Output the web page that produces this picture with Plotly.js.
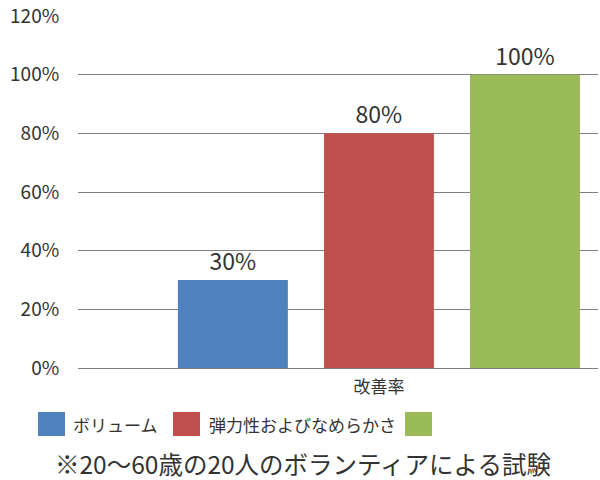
<!DOCTYPE html>
<html>
<head>
<meta charset="utf-8">
<script src="https://cdn.plot.ly/plotly-3.0.1.min.js"></script>
<style>html,body{margin:0;padding:0;background:#fff;}#chart{width:600px;height:480px;}</style>
</head>
<body>
<div id="chart"></div>
<script>
var categories = ["改善率"];
var seriesNames = ["ボリューム", "弾力性およびなめらかさ", ""];
var seriesValues = [[30], [80], [100]];
var seriesColors = ["#4F81BD", "#C0504D", "#9BBB59"];
var yTickValues = [0, 20, 40, 60, 80, 100, 120];
var footnote = "※20～60歳の20人のボランティアによる試験";

var FONT = "'Noto Sans CJK JP', 'Noto Sans', sans-serif";
var L = 78, R = 2, T = 16, B = 112, W = 600, H = 480;
var pw = W - L - R, ph = H - T - B;
function px2x(px) { return (px - L) / pw; }
function py2y(py) { return (H - B - py) / ph; }

var traces = seriesNames.map(function (n, i) {
  return {
    type: "bar",
    name: n,
    x: categories,
    y: seriesValues[i],
    marker: { color: seriesColors[i] },
    text: seriesValues[i].map(function (v) { return v + "%"; }),
    textposition: "outside",
    textfont: { family: FONT, size: 23, color: "#333333" },
    cliponaxis: false,
    showlegend: false,
    hoverinfo: "none"
  };
});

// custom legend
var legendItems = [
  { sq: 38, tx: 71 },
  { sq: 173, tx: 207 },
  { sq: 405, tx: 440 }
];
var shapes = [], annotations = [];
legendItems.forEach(function (it, i) {
  shapes.push({
    type: "rect", xref: "paper", yref: "paper",
    x0: px2x(it.sq), x1: px2x(it.sq + 27),
    y0: py2y(436), y1: py2y(412),
    fillcolor: seriesColors[i], line: { width: 0 }
  });
  if (seriesNames[i]) {
    annotations.push({
      xref: "paper", yref: "paper", x: px2x(it.tx), y: py2y(424),
      xanchor: "left", yanchor: "middle", showarrow: false,
      text: seriesNames[i],
      font: { family: FONT, size: 17, color: "#333333" }
    });
  }
});
annotations.push({
  xref: "paper", yref: "paper", x: px2x(303), y: py2y(463),
  xanchor: "center", yanchor: "middle", showarrow: false,
  text: footnote,
  font: { family: FONT, size: 24.5, color: "#333333" }
});

var layout = {
  width: W, height: H,
  margin: { l: L, r: R, t: T, b: B, pad: 0 },
  paper_bgcolor: "#ffffff", plot_bgcolor: "#ffffff",
  barmode: "group",
  bargap: 0.272,
  bargroupgap: 0.247,
  xaxis: {
    type: "category",
    range: [-0.5, 0.364],
    showgrid: false, zeroline: false, showline: false,
    ticks: "outside", ticklen: 4, tickcolor: "rgba(0,0,0,0)",
    tickfont: { family: FONT, size: 17, color: "#333333" },
    fixedrange: true
  },
  yaxis: {
    range: [0, 120],
    tickvals: yTickValues,
    ticktext: yTickValues.map(function (v) { return v + "%"; }),
    showgrid: true, gridcolor: "#7f7f7f", gridwidth: 1,
    zeroline: true, zerolinecolor: "#7f7f7f", zerolinewidth: 1,
    showline: false,
    ticks: "outside", ticklen: 14, tickcolor: "rgba(0,0,0,0)",
    tickfont: { family: FONT, size: 19, color: "#333333" },
    fixedrange: true
  },
  shapes: shapes,
  annotations: annotations,
  showlegend: false
};

Plotly.newPlot("chart", traces, layout, { staticPlot: true, displayModeBar: false });
</script>
</body>
</html>
